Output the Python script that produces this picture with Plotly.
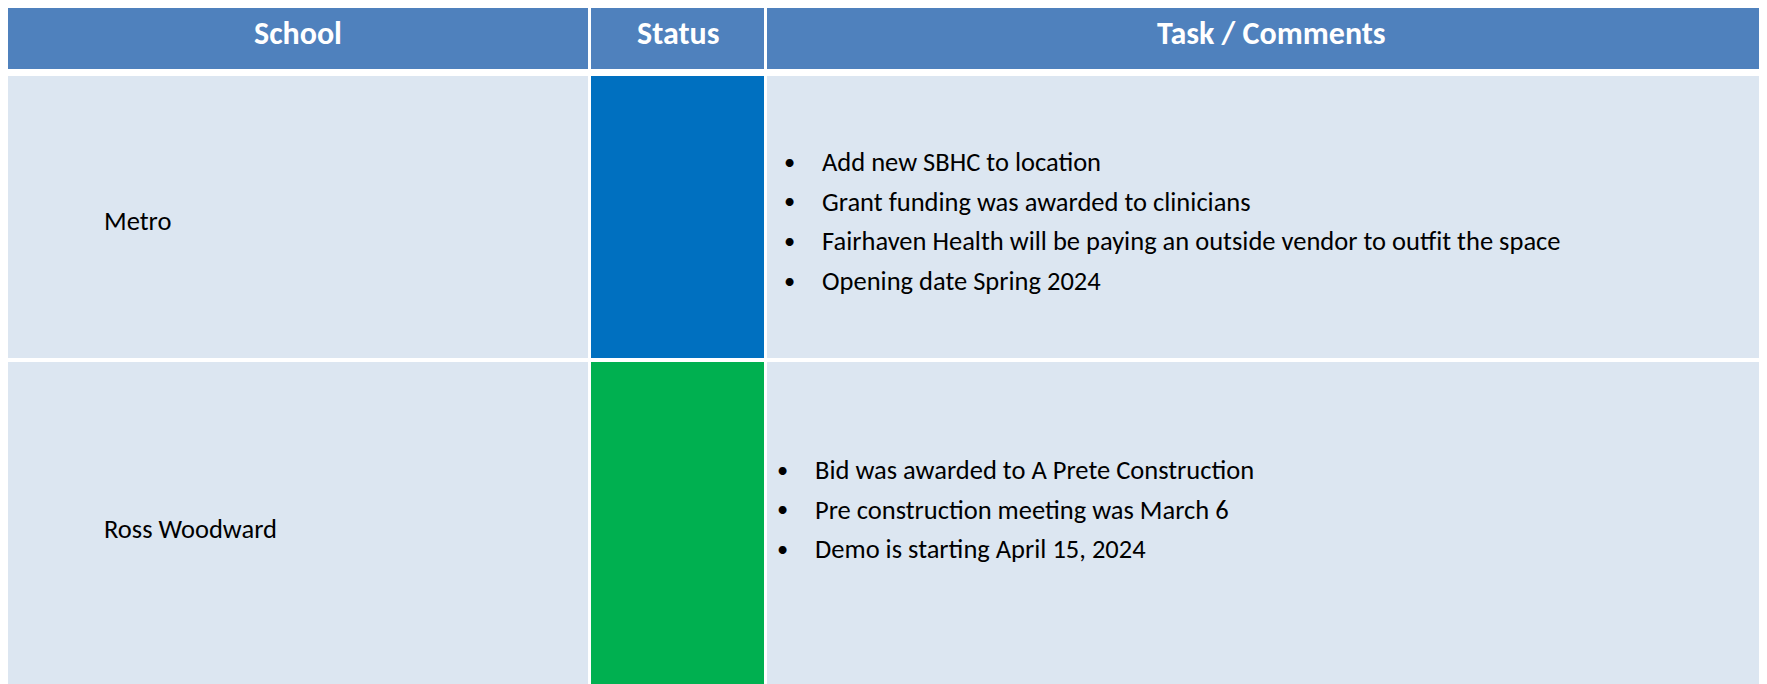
import plotly.graph_objects as go

# ---- data ----
headers = ["School", "Status", "Task / Comments"]
schools = ["Metro", "Ross Woodward"]
status_colors = ["#0070C0", "#00B050"]
comments_metro = [
    "Add new SBHC to location",
    "Grant funding was awarded to clinicians",
    "Fairhaven Health will be paying an outside vendor to outfit the space",
    "Opening date Spring 2024",
]
comments_ross = [
    "Bid was awarded to A Prete Construction",
    "Pre construction meeting was March 6",
    "Demo is starting April 15, 2024",
]
comments = [comments_metro, comments_ross]

# ---- layout constants (pixel space of the axes) ----
W, H = 1767, 684
col_edges = [(0, 580), (583, 756), (759, 1767)]
header_band = (0, 61)
row_bands = [(68, 350), (354, 700)]
header_fill = "#4F81BD"
row_fill = "#DCE6F1"
school_x = 94
school_y = [213, 521]
bullet_x = [781, 774]
text_x = [812, 805]
first_line_y = [154, 462]
line_gap = 39.7
FONT = "Carlito, Lato, sans-serif"
BODY = 26.5
HEAD = 32

fig = go.Figure()
# invisible trace to establish axes
fig.add_trace(go.Scatter(x=[0, W], y=[0, H], mode="markers",
                         marker=dict(opacity=0), hoverinfo="skip", showlegend=False))

shapes = []
annotations = []

# header
for (x0, x1), label in zip(col_edges, headers):
    shapes.append(dict(type="rect", xref="x", yref="y", x0=x0, x1=x1,
                       y0=header_band[0], y1=header_band[1],
                       fillcolor=header_fill, line=dict(width=0), layer="below"))
    annotations.append(dict(x=(x0 + x1) / 2, y=(header_band[0] + header_band[1]) / 2 - 5,
                            xref="x", yref="y", text="<b>" + label + "</b>",
                            showarrow=False, xanchor="center", yanchor="middle",
                            font=dict(family=FONT, size=HEAD, color="white")))

# rows
for i, (school, color, lines) in enumerate(zip(schools, status_colors, comments)):
    y0, y1 = row_bands[i]
    for j, (x0, x1) in enumerate(col_edges):
        fill = color if j == 1 else row_fill
        shapes.append(dict(type="rect", xref="x", yref="y", x0=x0, x1=x1, y0=y0, y1=y1,
                           fillcolor=fill, line=dict(width=0), layer="below"))
    annotations.append(dict(x=school_x, y=school_y[i], xref="x", yref="y", text=school,
                            showarrow=False, xanchor="left", yanchor="middle",
                            font=dict(family=FONT, size=BODY, color="black")))
    for k, line in enumerate(lines):
        ly = first_line_y[i] + k * line_gap
        annotations.append(dict(x=bullet_x[i], y=ly, xref="x", yref="y", text="•",
                                showarrow=False, xanchor="center", yanchor="middle",
                                font=dict(family=FONT, size=BODY - 4, color="black")))
        annotations.append(dict(x=text_x[i], y=ly, xref="x", yref="y", text=line,
                                showarrow=False, xanchor="left", yanchor="middle",
                                font=dict(family=FONT, size=BODY, color="black")))

fig.update_layout(
    width=W, height=H,
    margin=dict(l=0, r=0, t=0, b=0),
    paper_bgcolor="white", plot_bgcolor="white",
    xaxis=dict(range=[0, W], visible=False, fixedrange=True),
    yaxis=dict(range=[H, 0], visible=False, fixedrange=True),
    shapes=shapes, annotations=annotations,
    showlegend=False,
)

fig.write_html("out.html", config={"displayModeBar": False})
